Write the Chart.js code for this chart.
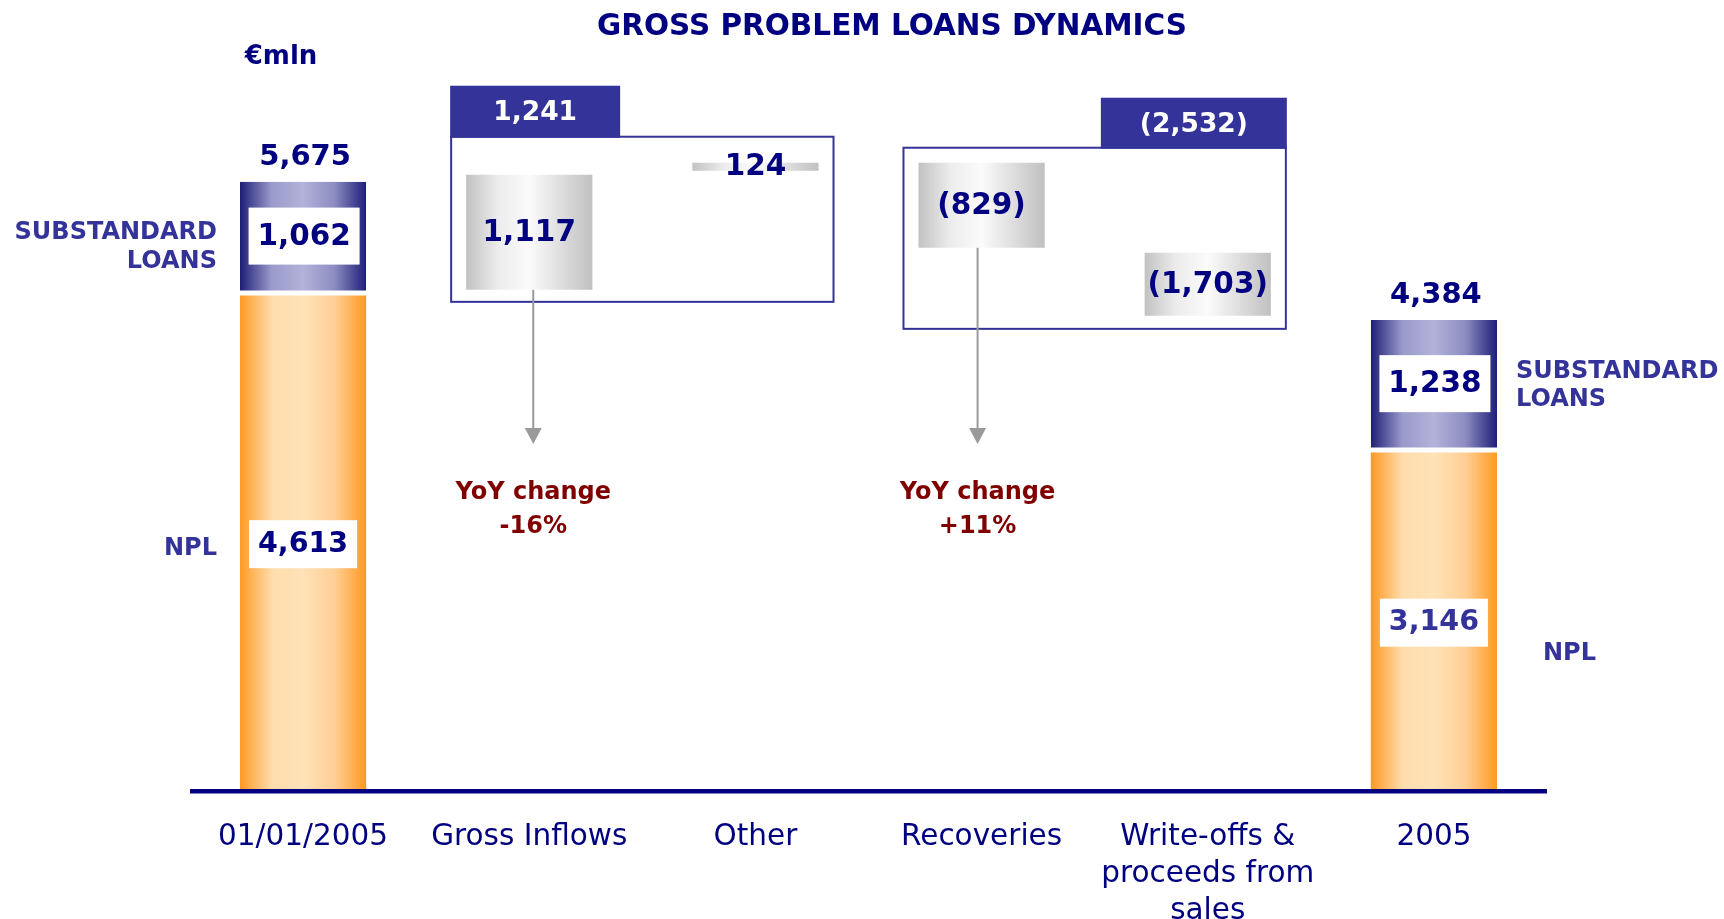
<!DOCTYPE html>
<html>
<head>
<meta charset="utf-8">
<title>Gross problem loans dynamics</title>
<script src="https://cdn.jsdelivr.net/npm/chart.js@4.4.1/dist/chart.umd.min.js"></script>
<style>
  html, body { margin: 0; padding: 0; background: #fff; }
</style>
</head>
<body>
<canvas id="myChart" width="1724" height="919"></canvas>
<script>
////////// DATA (€mln) //////////
const categories = ['01/01/2005', 'Gross Inflows', 'Other', 'Recoveries', ['Write-offs &', 'proceeds from', 'sales'], '2005'];
const nplValues = [4613, null, null, null, null, 3146];
const substandardValues = [1062, null, null, null, null, 1238];
const totalValues = [5675, null, null, null, null, 4384];
const flowValues = [null, 1117, 124, -829, -1703, null];
// where the grey flow boxes float in the picture (low, high)
const flowRanges = [null, [4665, 5740], [5778, 5853], [5058, 5853], [4422, 5011], null];
const groupTotals = [1241, -2532];
const groupFirst = [1, 3];
const groupLast = [2, 4];
const yoyLabels = ['-16%', '+11%'];
const yoyFrom = [1, 3];

////////// STYLE //////////
const navy = '#000080';
const purple = '#333399';
const darkRed = '#800000';
const fontFamily = "'DejaVu Sans', Verdana, sans-serif";
const barShare = 0.558;

function fmt(v) {
    const s = Math.abs(v).toLocaleString('en-US');
    return v < 0 ? '(' + s + ')' : s;
}

// horizontal gradient across each bar
function barGradient(stops) {
    return function (c) {
        const chart = c.chart;
        if (!chart.chartArea || c.dataIndex === undefined || !chart.scales.x) return stops[1];
        const x = chart.scales.x;
        const w = (x.getPixelForValue(1) - x.getPixelForValue(0)) * barShare;
        const cx = x.getPixelForValue(c.dataIndex);
        const g = chart.ctx.createLinearGradient(cx - w / 2, 0, cx + w / 2, 0);
        stops.forEach((s, i) => g.addColorStop(i / (stops.length - 1), s));
        return g;
    };
}

function text(ctx, str, px, py, size, color, weight, align) {
    ctx.font = (weight || 'bold') + ' ' + size + 'px ' + fontFamily;
    ctx.fillStyle = color;
    ctx.textAlign = align || 'center';
    ctx.textBaseline = 'middle';
    ctx.fillText(str, px, py);
}

// labels, boxes, arrows and notes drawn over the bars
const annotations = {
    id: 'annotations',
    afterDatasetsDraw(chart) {
        const { ctx, chartArea, scales: { x, y } } = chart;
        const half = (x.getPixelForValue(1) - x.getPixelForValue(0)) * barShare / 2;
        const y0 = y.getPixelForValue(0);
        ctx.save();

        // axis line
        ctx.fillStyle = navy;
        ctx.fillRect(chartArea.left, y0, chartArea.right - chartArea.left, 4.5);

        // stacked bars: value boxes, totals, side labels
        [0, 5].forEach(function (i, k) {
            const cx = x.getPixelForValue(i);
            const nplTop = y.getPixelForValue(nplValues[i]);
            const subTop = y.getPixelForValue(nplValues[i] + substandardValues[i]);
            const subMid = (subTop + nplTop - 5) / 2;
            const nplMid = (nplTop + y0) / 2;

            ctx.fillStyle = '#fff';
            ctx.fillRect(cx + 1 - 55.5, subMid - 28.5, 111, 57);
            text(ctx, fmt(substandardValues[i]), cx + 1, subMid + 1, 29.5, navy);

            ctx.fillStyle = '#fff';
            ctx.fillRect(cx - 54, nplMid - 22, 108, 48);
            text(ctx, fmt(nplValues[i]), cx, nplMid + 2, 28.5, k === 0 ? navy : purple);

            text(ctx, fmt(totalValues[i]), cx + 2, subTop - 24, 29, navy);

            if (k === 0) {
                const lx = cx - half - 23;
                text(ctx, 'SUBSTANDARD', lx, subMid - 3, 24, purple, 'bold', 'right');
                text(ctx, 'LOANS', lx, subMid + 26, 24, purple, 'bold', 'right');
                text(ctx, 'NPL', lx, nplMid + 7, 24, purple, 'bold', 'right');
            } else {
                const rx = cx + half + 19;
                text(ctx, 'SUBSTANDARD', rx, subMid - 12, 24, purple, 'bold', 'left');
                text(ctx, 'LOANS', rx, subMid + 16, 24, purple, 'bold', 'left');
                text(ctx, 'NPL', rx + 27, nplMid + 33, 24, purple, 'bold', 'left');
            }
        });

        // flow labels
        flowRanges.forEach(function (r, i) {
            if (!r) return;
            const mid = (y.getPixelForValue(r[0]) + y.getPixelForValue(r[1])) / 2;
            text(ctx, fmt(flowValues[i]), x.getPixelForValue(i), mid + 1, 29.5, navy);
        });

        // group outline boxes with total headers
        const padTop = [26, 15], padBottom = [12, 13], headW = [170, 186], headH = [51, 50];
        groupFirst.forEach(function (first, g) {
            const last = groupLast[g];
            let hi = -Infinity, lo = Infinity;
            for (let i = first; i <= last; i++) {
                hi = Math.max(hi, flowRanges[i][1]);
                lo = Math.min(lo, flowRanges[i][0]);
            }
            const left = x.getPixelForValue(first) - half - 15;
            const right = x.getPixelForValue(last) + half + 15;
            const top = y.getPixelForValue(hi) - padTop[g];
            const bottom = y.getPixelForValue(lo) + padBottom[g];
            ctx.strokeStyle = purple;
            ctx.lineWidth = 2;
            ctx.strokeRect(left, top, right - left, bottom - top);

            const hx = g === 0 ? left - 1 : right + 1 - headW[g];
            ctx.fillStyle = purple;
            ctx.fillRect(hx, top - headH[g], headW[g], headH[g] + 1);
            text(ctx, fmt(groupTotals[g]), hx + headW[g] / 2, top - headH[g] / 2 + 2, 26.5, '#fff');
        });

        // arrows and YoY notes
        const tip = y0 - 345;
        yoyFrom.forEach(function (i, g) {
            const cx = x.getPixelForValue(i) + (g === 0 ? 4 : -4);
            const start = y.getPixelForValue(flowRanges[i][0]);
            ctx.strokeStyle = '#9a9a9a';
            ctx.lineWidth = 2;
            ctx.beginPath();
            ctx.moveTo(cx, start);
            ctx.lineTo(cx, tip - 12);
            ctx.stroke();
            ctx.fillStyle = '#9a9a9a';
            ctx.beginPath();
            ctx.moveTo(cx - 8.5, tip - 16);
            ctx.lineTo(cx + 8.5, tip - 16);
            ctx.lineTo(cx, tip);
            ctx.closePath();
            ctx.fill();
            text(ctx, 'YoY change', cx, tip + 49, 24, darkRed);
            text(ctx, yoyLabels[g], cx, tip + 83, 24, darkRed);
        });

        // title and unit
        text(ctx, 'GROSS PROBLEM LOANS DYNAMICS', 892, 27, 29.5, navy);
        text(ctx, '€mln', 281, 57, 26, navy);

        ctx.restore();
    }
};

////////// CHART //////////
const data = {
    labels: categories,
    datasets: [
        {
            label: 'NPL',
            data: nplValues.map(v => v == null ? null : [0, v]),
            backgroundColor: barGradient(['#ff9922', '#ffdcab', '#ffe2b8', '#ffcf95', '#ff9922'])
        },
        {
            label: 'Substandard loans',
            data: substandardValues.map((v, i) => v == null ? null : [nplValues[i], nplValues[i] + v]),
            backgroundColor: barGradient(['#1e1e78', '#9a9acb', '#b2b2da', '#8c8cc2', '#1e1e78']),
            borderColor: '#ffffff',
            borderWidth: { top: 0, left: 0, right: 0, bottom: 5 },
            borderSkipped: false
        },
        {
            label: 'Flows',
            data: flowRanges,
            backgroundColor: barGradient(['#c2c2c2', '#ececec', '#fbfbfb', '#dedede', '#c0c0c0'])
        }
    ]
};

const config = {
    type: 'bar',
    data: data,
    options: {
        responsive: false,
        animation: false,
        devicePixelRatio: 1,
        categoryPercentage: barShare,
        barPercentage: 1,
        layout: { padding: { top: 40, left: 190, right: 177, bottom: 0 } },
        plugins: { legend: { display: false }, tooltip: { enabled: false }, title: { display: false } },
        scales: {
            x: {
                stacked: true,
                grid: { display: false, drawTicks: false },
                border: { display: false },
                ticks: {
                    color: navy,
                    font: { family: fontFamily, size: 29.5, lineHeight: 1.25 },
                    padding: 30,
                    maxRotation: 0,
                    autoSkip: false
                },
                afterFit: function (s) { s.height = 130; }
            },
            y: { display: false, min: 0, max: 7000 }
        }
    },
    plugins: [annotations]
};

var myChart = new Chart(document.getElementById('myChart'), config);
</script>
</body>
</html>
